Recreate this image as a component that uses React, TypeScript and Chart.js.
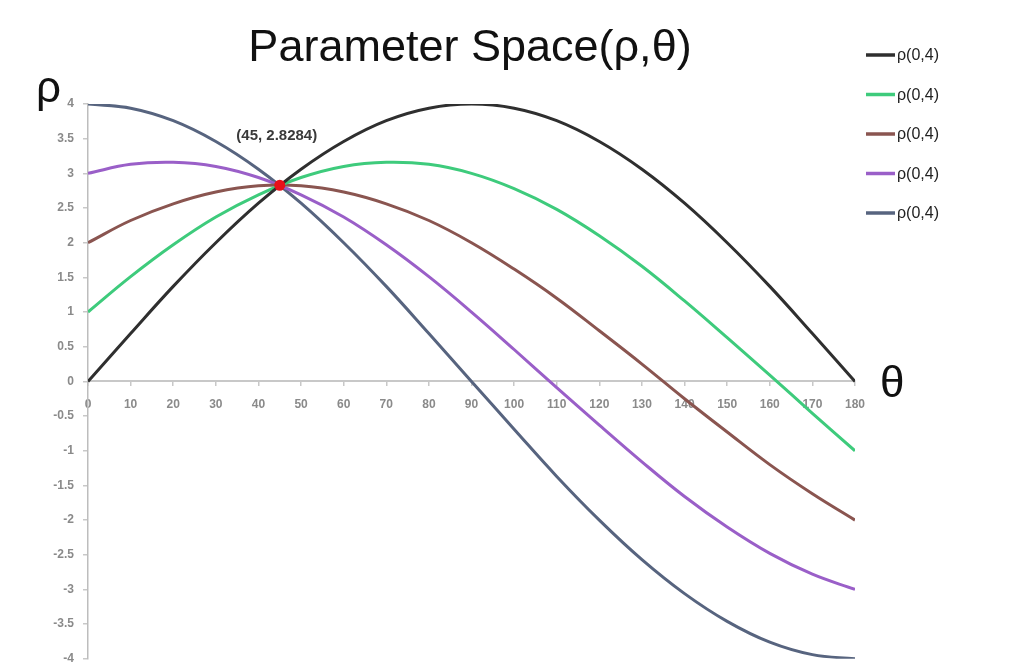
import React, { useEffect, useRef } from "react";
import { Chart, registerables } from "chart.js";

Chart.register(...registerables);

// Angle samples (degrees) shared by every curve
const THETA = [0, 10, 20, 30, 40, 50, 60, 70, 80, 90, 100, 110, 120, 130, 140, 150, 160, 170, 180];

// ρ values for each sinusoid
const RHO_A = [0, 0.69, 1.37, 2.0, 2.57, 3.06, 3.46, 3.76, 3.94, 4.0, 3.94, 3.76, 3.46, 3.06, 2.57, 2.0, 1.37, 0.69, 0];
const RHO_B = [1, 1.51, 1.97, 2.37, 2.69, 2.94, 3.1, 3.16, 3.13, 3.0, 2.78, 2.48, 2.1, 1.66, 1.16, 0.63, 0.09, -0.46, -1];
const RHO_C = [2, 2.32, 2.56, 2.73, 2.82, 2.82, 2.73, 2.56, 2.32, 2.0, 1.62, 1.2, 0.73, 0.25, -0.25, -0.73, -1.2, -1.62, -2];
const RHO_D = [3, 3.13, 3.16, 3.1, 2.94, 2.69, 2.37, 1.97, 1.51, 1.0, 0.46, -0.09, -0.63, -1.16, -1.66, -2.1, -2.48, -2.78, -3];
const RHO_E = [4, 3.94, 3.76, 3.46, 3.06, 2.57, 2.0, 1.37, 0.69, 0, -0.69, -1.37, -2.0, -2.57, -3.06, -3.46, -3.76, -3.94, -4];

const SERIES_LABELS = ["ρ(0,4)", "ρ(0,4)", "ρ(0,4)", "ρ(0,4)", "ρ(0,4)"];

// Common crossing point of all curves
const INTERSECTION = { theta: 45, rho: 2.8284 };

// Axis tick values
const X_TICK_VALUES = [0, 10, 20, 30, 40, 50, 60, 70, 80, 90, 100, 110, 120, 130, 140, 150, 160, 170, 180];
const Y_TICK_VALUES = [-4, -3.5, -3, -2.5, -2, -1.5, -1, -0.5, 0, 0.5, 1, 1.5, 2, 2.5, 3, 3.5, 4];

const TITLE = "Parameter Space(ρ,θ)";
const SERIES_COLORS = ["#2f2f2f", "#3ecb7c", "#8a5550", "#9a5fc8", "#57647f"];
const FONT = '"Liberation Sans", Arial, sans-serif';

const overlayPlugin = {
  id: "overlay",
  afterDatasetsDraw(chart: any) {
    const { ctx, scales } = chart;
    const x = scales.x;
    const y = scales.y;
    ctx.save();

    // Title
    ctx.fillStyle = "#111111";
    ctx.font = `45px ${FONT}`;
    ctx.textAlign = "center";
    ctx.textBaseline = "alphabetic";
    ctx.fillText(TITLE, 470, 61);

    // Axis symbols
    ctx.textAlign = "left";
    ctx.font = `44px ${FONT}`;
    ctx.fillText("ρ", 36, 102);
    ctx.fillText("θ", 880, 397);

    // Intersection label
    const px = x.getPixelForValue(INTERSECTION.theta);
    const py = y.getPixelForValue(INTERSECTION.rho);
    ctx.font = `bold 15px ${FONT}`;
    ctx.fillStyle = "#3a3a3a";
    ctx.textAlign = "center";
    ctx.textBaseline = "middle";
    ctx.fillText(`(${INTERSECTION.theta}, ${INTERSECTION.rho})`, px - 3, py - 49);

    // Legend
    const rowY = [55, 94.5, 134, 173.5, 213];
    ctx.font = `16px ${FONT}`;
    ctx.textAlign = "left";
    ctx.textBaseline = "middle";
    SERIES_LABELS.forEach((label, i) => {
      ctx.strokeStyle = SERIES_COLORS[i];
      ctx.lineWidth = 3.5;
      ctx.beginPath();
      ctx.moveTo(866, rowY[i]);
      ctx.lineTo(895, rowY[i]);
      ctx.stroke();
      ctx.fillStyle = "#222222";
      ctx.fillText(label, 897, rowY[i] + 1);
    });

    ctx.restore();
  },
};

export default function App() {
  const canvasRef = useRef<HTMLCanvasElement | null>(null);

  useEffect(() => {
    if (!canvasRef.current) return;
    const series = [RHO_A, RHO_B, RHO_C, RHO_D, RHO_E];

    const curveSets = series.map((values, i) => ({
      label: SERIES_LABELS[i],
      data: THETA.map((t, k) => ({ x: t, y: values[k] })),
      borderColor: SERIES_COLORS[i],
      backgroundColor: SERIES_COLORS[i],
      borderWidth: 3,
      pointRadius: 0,
      tension: 0.4,
      fill: false,
      order: 1,
    }));

    const tickFont = { size: 12, family: FONT, weight: "bold" as any };

    const chart = new Chart(canvasRef.current, {
      type: "line",
      data: {
        datasets: [
          {
            label: "intersection",
            data: [{ x: INTERSECTION.theta, y: INTERSECTION.rho }],
            showLine: false,
            pointRadius: 5.5,
            pointBackgroundColor: "#e8101a",
            pointBorderColor: "#e8101a",
            pointBorderWidth: 0,
            order: 0,
          } as any,
          ...curveSets,
        ],
      },
      options: {
        animation: false,
        responsive: true,
        maintainAspectRatio: false,
        events: [],
        layout: { padding: { left: 48, top: 104, right: 172, bottom: 6 } },
        plugins: {
          legend: { display: false },
          tooltip: { enabled: false },
          title: { display: false },
        },
        scales: {
          x: {
            type: "linear",
            min: 0,
            max: 180,
            position: { y: 0 } as any,
            afterBuildTicks: (scale: any) => {
              scale.ticks = X_TICK_VALUES.map((value) => ({ value }));
            },
            grid: { drawOnChartArea: false, drawTicks: true, tickLength: 4, color: "#c8c8c8", lineWidth: 1.5 },
            border: { display: true, color: "#c8c8c8", width: 2 },
            ticks: {
              color: "#8a8a8a",
              font: tickFont,
              padding: 12,
              maxRotation: 0,
              autoSkip: false,
              callback: (value: any) => String(value),
            },
          },
          y: {
            type: "linear",
            min: -4,
            max: 4,
            afterBuildTicks: (scale: any) => {
              scale.ticks = Y_TICK_VALUES.map((value) => ({ value }));
            },
            afterFit: (scale: any) => {
              scale.width = 40;
            },
            grid: { drawOnChartArea: false, drawTicks: true, tickLength: 5, color: "#c8c8c8", lineWidth: 1.5 },
            border: { display: true, color: "#bdbdbd", width: 1.5 },
            ticks: {
              color: "#8a8a8a",
              font: tickFont,
              padding: 9,
              autoSkip: false,
              callback: (value: any) => String(value),
            },
          },
        },
      },
      plugins: [overlayPlugin],
    });

    return () => chart.destroy();
  }, []);

  // The canvas runs a little past the bottom edge so the -4 tick sits at the very foot of the view
  return (
    <div style={{ position: "fixed", left: 0, top: 0, width: 1027, height: 675, background: "#ffffff" }}>
      <canvas ref={canvasRef} />
    </div>
  );
}
